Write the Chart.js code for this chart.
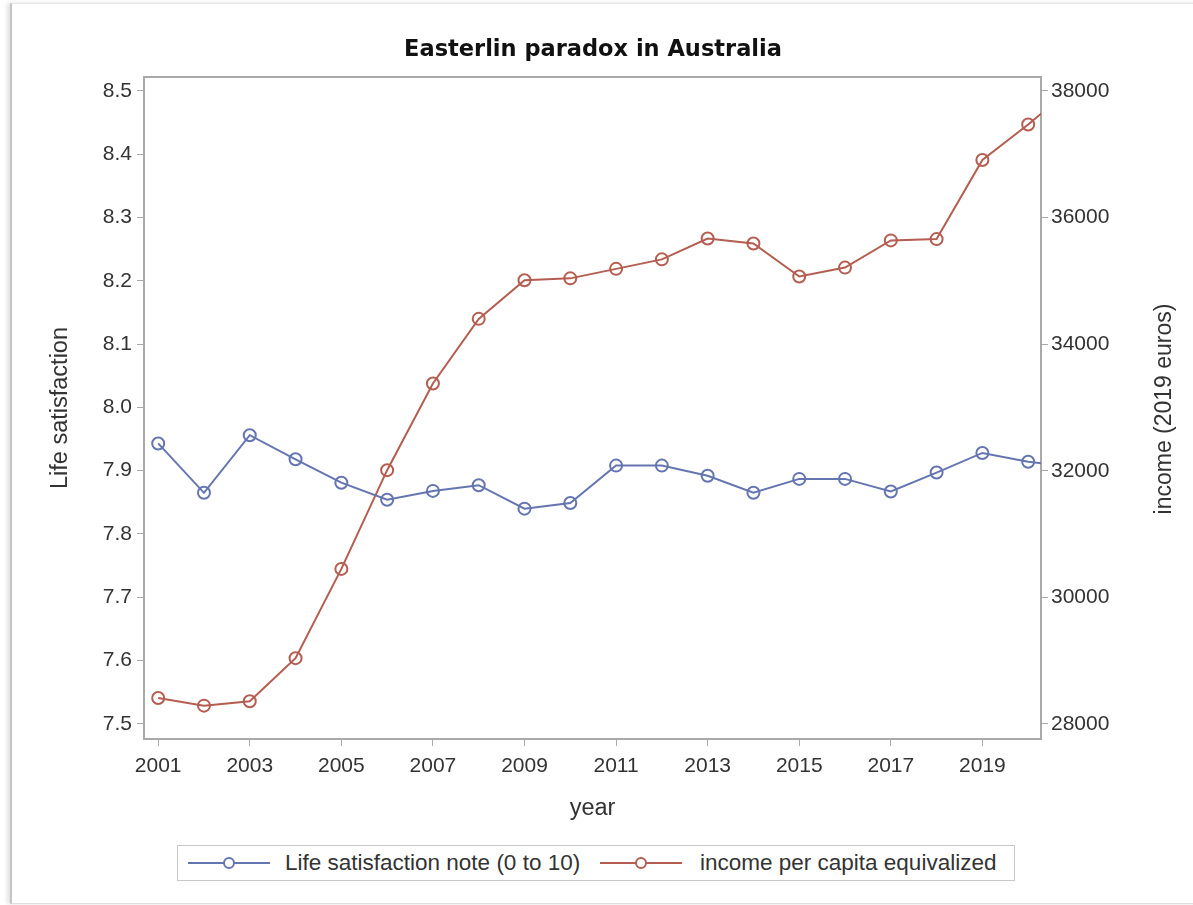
<!DOCTYPE html>
<html>
<head>
<meta charset="utf-8">
<title>Easterlin paradox in Australia</title>
<script src="https://cdn.jsdelivr.net/npm/chart.js@4.4.0/dist/chart.umd.min.js"></script>
<style>
  body { margin: 0; background: #fff; }
  #page { position: relative; width: 1193px; height: 905px; overflow: hidden; font-family: "Liberation Sans", Arial, sans-serif; }
  #frame { position: absolute; left: 10px; top: 3px; width: 1190px; height: 899px;
           border-left: 2px solid #c4c4c4; border-top: 1px solid #e6e6e6; border-bottom: 1px solid #dedede;
           box-shadow: -3px 0 4px #e2e2e2; pointer-events: none; }
  #chartBox { position: absolute; left: 0; top: 0; width: 1193px; height: 830px; }
  #title { position: absolute; left: 0; width: 1186px; top: 35px; text-align: center;
           font-family: "DejaVu Sans", sans-serif; font-weight: bold; font-size: 22.5px; color: #111; }
  #rightTitle { position: absolute; left: 1163px; top: 409px; white-space: nowrap; color: #333;
                font-size: 23px; transform: translate(-50%, -50%) rotate(-90deg); }
  #legend { position: absolute; left: 177px; top: 845px; width: 836px; height: 34px;
            border: 1px solid #c8c8c8; color: #333; font-size: 22.5px; }
  .item { position: absolute; top: 0; height: 34px; line-height: 34px; white-space: nowrap; }
  .sym { position: absolute; top: 16px; height: 2px; width: 82px; }
  .sym span { position: absolute; left: 35px; top: -5px; width: 8px; height: 8px; border-radius: 50%;
              border: 2px solid; background: #fff; }
  .lab { position: absolute; top: 0; }
</style>
</head>
<body>
<div id="page">
  <div id="chartBox"><canvas id="myChart" width="1193" height="830"></canvas></div>
  <div id="title">Easterlin paradox in Australia</div>
  <div id="rightTitle">income (2019 euros)</div>
  <div id="legend"></div>
  <div id="frame"></div>
</div>
<script>
var years = [2001, 2002, 2003, 2004, 2005, 2006, 2007, 2008, 2009, 2010, 2011,
             2012, 2013, 2014, 2015, 2016, 2017, 2018, 2019, 2020, 2021];
var lifeSatisfaction = [7.943, 7.865, 7.956, 7.918, 7.881, 7.854, 7.868, 7.877, 7.840, 7.849, 7.908,
                        7.908, 7.892, 7.865, 7.887, 7.887, 7.867, 7.897, 7.928, 7.914, 7.906];
var income = [28410, 28290, 28360, 29040, 30450, 32010, 33380, 34400, 35010, 35040, 35190,
              35340, 35670, 35590, 35070, 35210, 35640, 35660, 36910, 37470, 38080];
var yearTicks = [2001, 2003, 2005, 2007, 2009, 2011, 2013, 2015, 2017, 2019];
var lifeTicks = [7.5, 7.6, 7.7, 7.8, 7.9, 8.0, 8.1, 8.2, 8.3, 8.4, 8.5];
var incomeTicks = [28000, 30000, 32000, 34000, 36000, 38000];
var seriesNames = ['Life satisfaction note (0 to 10)', 'income per capita equivalized'];

var blue = '#6475B0';
var red = '#B55D50';
var axisGray = '#a9a9a9';
var textColor = '#333333';

function toPoints(vals) {
  return years.map(function(y, i) { return {x: y, y: vals[i]}; });
}

function fixTicks(list) {
  return function(scale) {
    scale.ticks = list.map(function(v) { return {value: v}; });
  };
}

var tickFont = {family: 'Liberation Sans', size: 21};
var titleFont = {family: 'Liberation Sans', size: 23.5};

var ctx = document.getElementById('myChart').getContext('2d');
var chart = new Chart(ctx, {
  type: 'line',
  data: {
    datasets: [{
      label: seriesNames[0],
      data: toPoints(lifeSatisfaction),
      yAxisID: 'yLeft',
      borderColor: blue,
      borderWidth: 2,
      pointRadius: 6,
      pointBorderWidth: 2,
      pointBorderColor: blue,
      pointBackgroundColor: 'rgba(0,0,0,0)',
      clip: 0
    }, {
      label: seriesNames[1],
      data: toPoints(income),
      yAxisID: 'yRight',
      borderColor: red,
      borderWidth: 2,
      pointRadius: 6,
      pointBorderWidth: 2,
      pointBorderColor: red,
      pointBackgroundColor: 'rgba(0,0,0,0)',
      clip: 0
    }]
  },
  options: {
    responsive: false,
    animation: false,
    layout: { padding: { left: 46, right: 18, top: 77, bottom: 0 } },
    plugins: {
      legend: { display: false },
      tooltip: { enabled: false },
      title: { display: false }
    },
    scales: {
      x: {
        type: 'linear',
        position: 'bottom',
        min: 2000.69,
        max: 2020.28,
        afterBuildTicks: fixTicks(yearTicks),
        afterFit: function(s) { s.height = 91; },
        grid: { display: true, drawOnChartArea: false, drawTicks: true, tickLength: 7, color: axisGray },
        border: { display: true, color: axisGray, width: 2 },
        ticks: { color: textColor, font: tickFont, padding: 8, maxRotation: 0,
                 callback: function(v) { return String(v); } },
        title: { display: true, text: 'year', color: textColor, font: titleFont, padding: { top: 4, bottom: 7 } }
      },
      xTop: {
        type: 'linear',
        position: 'top',
        min: 2000.69,
        max: 2020.28,
        afterFit: function(s) { s.height = 0; },
        grid: { display: false },
        border: { display: true, color: axisGray, width: 2 },
        ticks: { display: false }
      },
      yLeft: {
        type: 'linear',
        position: 'left',
        min: 7.476,
        max: 8.522,
        afterBuildTicks: fixTicks(lifeTicks),
        afterFit: function(s) { s.width = 98; },
        grid: { display: true, drawOnChartArea: false, drawTicks: true, tickLength: 7, color: axisGray },
        border: { display: true, color: axisGray, width: 2 },
        ticks: { color: textColor, font: tickFont, padding: 5,
                 callback: function(v) { return v.toFixed(1); } },
        title: { display: true, text: 'Life satisfaction', color: textColor, font: titleFont, padding: 0 }
      },
      yRight: {
        type: 'linear',
        position: 'right',
        min: 27763,
        max: 38221,
        afterBuildTicks: fixTicks(incomeTicks),
        afterFit: function(s) { s.width = 134; },
        grid: { display: true, drawOnChartArea: false, drawTicks: true, tickLength: 7, color: axisGray },
        border: { display: true, color: axisGray, width: 2 },
        ticks: { color: textColor, font: tickFont, padding: 3,
                 callback: function(v) { return String(v); } },
        title: { display: false }
      }
    }
  }
});

// legend in html, same look as the sas one
function buildLegend() {
  var box = document.getElementById('legend');
  var symLeft = [10, 422];
  var labLeft = [107, 522];
  chart.data.datasets.forEach(function(ds, i) {
    var sym = document.createElement('div');
    sym.className = 'sym';
    sym.style.left = symLeft[i] + 'px';
    sym.style.background = ds.borderColor;
    var dot = document.createElement('span');
    dot.style.borderColor = ds.borderColor;
    sym.appendChild(dot);
    box.appendChild(sym);

    var lab = document.createElement('div');
    lab.className = 'item lab';
    lab.style.left = labLeft[i] + 'px';
    lab.textContent = ds.label;
    box.appendChild(lab);
  });
}
buildLegend();
</script>
</body>
</html>
